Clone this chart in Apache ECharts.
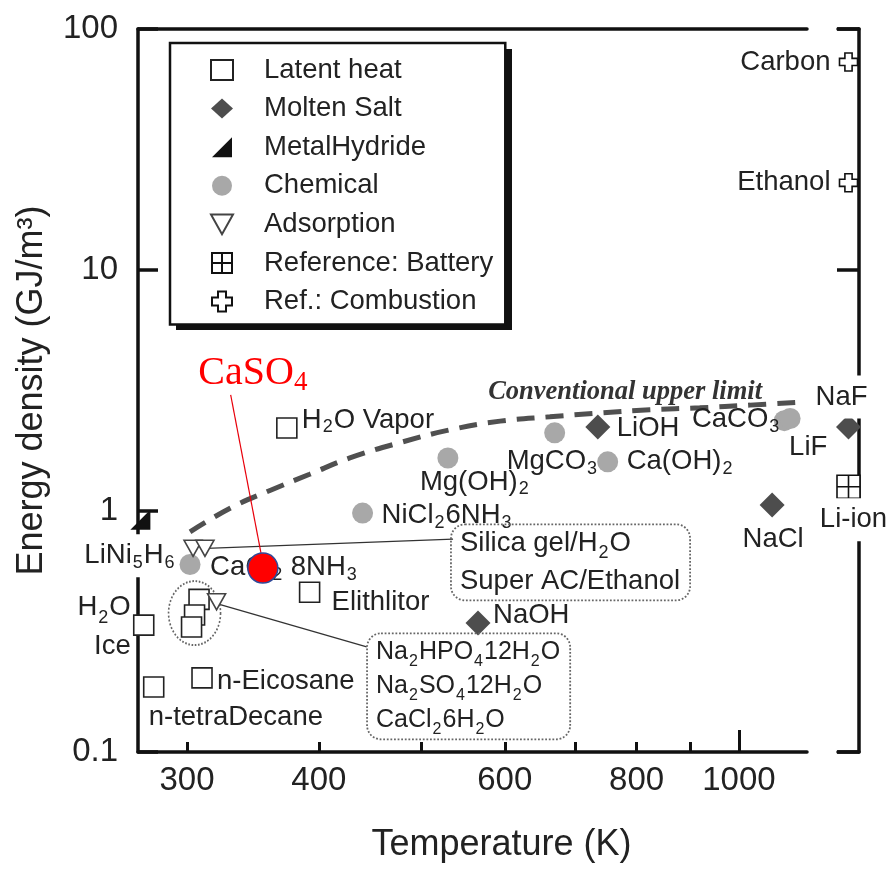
<!DOCTYPE html>
<html>
<head>
<meta charset="utf-8">
<title>Energy density vs temperature of heat storage materials</title>
<script src="https://cdn.jsdelivr.net/npm/echarts@6/dist/echarts.min.js"></script>
<style>
  html, body { margin: 0; padding: 0; background: #fff; }
  #chart { width: 890px; height: 874px; }
</style>
</head>
<body>
<div id="chart"></div>
<script>
// ---------------- data: temperature (K) and energy density (GJ/m3) ----------------
const latentNames   = ['H2O Vapor', 'Elithlitor', 'H2O Ice', 'n-tetraDecane', 'n-Eicosane',
                       'Na2HPO4·12H2O', 'Na2SO4·12H2O', 'CaCl2·6H2O'];
const latentTemp    = [373, 392, 273, 279, 310, 308, 305, 303];
const latentDensity = [2.21, 0.46, 0.336, 0.186, 0.203, 0.43, 0.37, 0.33];

const moltenNames   = ['LiOH', 'NaOH', 'NaCl'];
const moltenTemp    = [735, 566, 1075];
const moltenDensity = [2.23, 0.343, 1.06];

const hydrideNames   = ['LiNi5H6'];
const hydrideTemp    = [271];
const hydrideDensity = [0.92];

const chemicalNames   = ['Mg(OH)2', 'NiCl2·6NH3', 'MgCO3', 'Ca(OH)2', 'CaCO3', 'LiF', 'CaCl2·8NH3'];
const chemicalTemp    = [530, 440, 669, 751, 1104, 1118, 302];
const chemicalDensity = [1.66, 0.98, 2.11, 1.60, 2.37, 2.42, 0.60];

const adsorptionNames   = ['Silica gel/H2O', 'Super AC/Ethanol', 'Adsorbent'];
const adsorptionTemp    = [304, 312, 320];
const adsorptionDensity = [0.70, 0.70, 0.42];

// right-hand reference column (no temperature scale)
const refCategory       = ['Ref.'];
const moltenRefNames    = ['NaF'];
const moltenRefDensity  = [2.23];
const batteryNames      = ['Li-ion'];
const batteryDensity    = [1.26];
const combustionNames   = ['Carbon', 'Ethanol'];
const combustionDensity = [73, 23];

const caso4Temp    = [354];
const caso4Density = [0.58];

// conventional upper limit (dashed guide)
const limitTemp    = [302, 330, 360, 392, 428, 477, 532, 594, 662, 738, 823, 918, 1024, 1142];
const limitDensity = [0.82, 1.03, 1.22, 1.42, 1.66, 1.92, 2.17, 2.36, 2.46, 2.55, 2.63, 2.68, 2.75, 2.83];

// leader lines (data space)
const silicaLeader  = [[313, 0.70], [536, 0.765]];
const hydrateLeader = [[322, 0.41], [444, 0.273]];
const caso4Leader   = [[330, 3.03], [353, 0.65]];
const hydrateGroup  = [305, 0.377];

// axes
const tempRange    = [269.6, 1160];
const densityRange = [0.1, 100];
const tempTicks    = [300, 400, 500, 600, 700, 800, 900, 1000];
const tempMajorTicks = [1000];
const tempLabels   = [300, 400, 600, 800, 1000];

// ---------------- styling ----------------
const SANS  = "'Liberation Sans', Arial, Helvetica, sans-serif";
const SERIF = "'Liberation Serif', 'Times New Roman', serif";
const INK   = '#222';
const AXIS  = '#111';

const labelText = {
  'H2O Vapor': 'H{s|2}O Vapor',
  'Elithlitor': 'Elithlitor',
  'H2O Ice': 'H{s|2}O\nIce',
  'n-tetraDecane': 'n-tetraDecane',
  'n-Eicosane': 'n-Eicosane',
  'Na2HPO4·12H2O': 'Na{u|2}HPO{u|4}12H{u|2}O\nNa{u|2}SO{u|4}12H{u|2}O\nCaCl{u|2}6H{u|2}O',
  'LiOH': 'LiOH',
  'NaOH': 'NaOH',
  'NaCl': 'NaCl',
  'NaF': 'NaF',
  'LiNi5H6': 'LiNi{s|5}H{s|6}',
  'Mg(OH)2': 'Mg(OH){s|2}',
  'NiCl2·6NH3': 'NiCl{s|2}6NH{s|3}',
  'MgCO3': 'MgCO{s|3}',
  'Ca(OH)2': 'Ca(OH){s|2}',
  'CaCO3': 'CaCO{s|3}',
  'LiF': 'LiF',
  'CaCl2·8NH3': 'CaCl{s|2} 8NH{s|3}',
  'Super AC/Ethanol': 'Silica gel/H{s|2}O\nSuper AC/Ethanol',
  'Li-ion': 'Li-ion',
  'Carbon': 'Carbon',
  'Ethanol': 'Ethanol'
};

// [align, dx, dy, kind] relative to the marker centre
const labelPlace = {
  'H2O Vapor': ['left', 15, -8],
  'Elithlitor': ['left', 22, 10],
  'H2O Ice': ['right', -13, 2],
  'n-tetraDecane': ['left', -5, 30],
  'n-Eicosane': ['left', 15, 4],
  'Na2HPO4·12H2O': ['left', 168, 87, 'box3'],
  'LiOH': ['left', 19, 1],
  'NaOH': ['left', 15, -8],
  'NaCl': ['center', 1, 35],
  'NaF': ['center', -7, -30, 'cut'],
  'LiNi5H6': ['left', -58, 36, 'cut'],
  'Mg(OH)2': ['left', -28, 24],
  'NiCl2·6NH3': ['left', 19, 2],
  'MgCO3': ['left', -48, 29],
  'Ca(OH)2': ['left', 19, 0],
  'CaCO3': ['right', -4, -1],
  'LiF': ['left', -1, 29],
  'CaCl2·8NH3': ['left', 20, 3],
  'Super AC/Ethanol': ['left', 246, 14, 'box2'],
  'Li-ion': ['center', 5, 33, 'cut'],
  'Carbon': ['right', -18, 0],
  'Ethanol': ['right', -18, 0]
};

const subRich = {
  s: { fontSize: 18, fontFamily: SANS, color: INK, verticalAlign: 'bottom', padding: [0, 1, 0, 1] },
  u: { fontSize: 16, fontFamily: SANS, color: INK, verticalAlign: 'bottom', padding: [0, 1, 0, 1] }
};

function makeLabel(name) {
  const p = labelPlace[name];
  if (!p) return { show: false };
  const [align, dx, dy, kind] = p;
  const lab = {
    show: true,
    formatter: labelText[name],
    position: 'inside',
    align: align,
    verticalAlign: 'middle',
    offset: [dx, dy],
    fontFamily: SANS,
    fontSize: 27.5,
    lineHeight: 33,
    color: INK,
    textBorderWidth: 0,
    textBorderColor: 'transparent',
    rich: subRich
  };
  if (kind === 'cut') Object.assign(lab, { backgroundColor: '#fff', padding: [5, 2] });
  if (kind === 'box2') Object.assign(lab, {
    borderColor: '#666', borderWidth: 1.8, borderType: 'dotted', borderRadius: 14,
    padding: [0, 10, 0, 9], lineHeight: 38
  });
  if (kind === 'box3') Object.assign(lab, {
    fontSize: 25,
    borderColor: '#666', borderWidth: 1.8, borderType: 'dotted', borderRadius: 14,
    padding: [2, 10, 2, 9], lineHeight: 34
  });
  if (name === 'H2O Ice') lab.lineHeight = 39;
  return lab;
}

function points(names, xs, ys) {
  return names.map((n, i) => ({ name: n, value: [xs[i], ys[i]], label: makeLabel(n) }));
}
function refPoints(names, ys) {
  return names.map((n, i) => ({ name: n, value: [refCategory[0], ys[i]], label: makeLabel(n) }));
}

const SYM = {
  latent: 'rect',
  molten: 'diamond',
  hydride: 'path://M10,0 L10,10 L0,10 Z',
  chemical: 'circle',
  adsorption: 'path://M0,0 L10,0 L5,9 Z',
  battery: 'path://M0,0 L10,0 L10,10 L0,10 Z M5,0 L5,10 M0,5 L10,5',
  combustion: 'path://M3,0 L7,0 L7,3 L10,3 L10,7 L7,7 L7,10 L3,10 L3,7 L0,7 L0,3 L3,3 Z'
};
const STYLE = {
  latent: { color: '#fff', borderColor: '#222', borderWidth: 1.6, opacity: 1 },
  molten: { color: '#4d4d4d', opacity: 1 },
  hydride: { color: '#111', opacity: 1 },
  chemical: { color: '#a8a8a8', opacity: 1 },
  adsorption: { color: '#fff', borderColor: '#444', borderWidth: 1.6, opacity: 1 },
  battery: { color: '#fff', borderColor: '#111', borderWidth: 1.6, opacity: 1 },
  combustion: { color: '#fff', borderColor: '#111', borderWidth: 1.6, opacity: 1 }
};

const axisLineStyle = { color: AXIS, width: 3.5 };

const limitData = limitTemp.map((t, i) => {
  const item = { value: [t, limitDensity[i]] };
  if (i === 7) {
    item.label = {
      show: true, formatter: 'Conventional upper limit', position: 'inside',
      align: 'left', verticalAlign: 'middle', offset: [-12, -29],
      fontFamily: SERIF, fontStyle: 'italic', fontWeight: 'bold', fontSize: 26.5, color: '#333',
      textBorderWidth: 0, textBorderColor: 'transparent'
    };
  }
  return item;
});

const option = {
  animation: false,
  backgroundColor: '#fff',
  textStyle: { fontFamily: SANS },
  grid: [
    { left: 138, top: 29, width: 669, height: 723, outerBoundsMode: 'none', containLabel: false },
    { left: 838, top: 29, width: 21, height: 723, outerBoundsMode: 'none', containLabel: false }
  ],
  // drop shadow behind the legend frame
  graphic: [
    { type: 'rect', left: 176, top: 49, z: 3, silent: true,
      shape: { width: 336, height: 281 }, style: { fill: '#111' } }
  ],
  legend: {
    orient: 'vertical',
    left: 170, top: 43, z: 5,
    padding: [12, 12, 8, 40],
    itemGap: 8.6,
    itemWidth: 22, itemHeight: 20,
    backgroundColor: '#fff',
    borderColor: '#111', borderWidth: 2.5,
    selectedMode: false,
    textStyle: { fontFamily: SANS, fontSize: 27.5, lineHeight: 30, color: INK, padding: [0, 0, 0, 26] },
    data: [
      { name: 'Latent heat', icon: SYM.latent },
      { name: 'Molten Salt', icon: SYM.molten },
      { name: 'MetalHydride', icon: SYM.hydride },
      { name: 'Chemical', icon: SYM.chemical },
      { name: 'Adsorption', icon: SYM.adsorption },
      { name: 'Reference: Battery', icon: SYM.battery },
      { name: 'Ref.: Combustion', icon: SYM.combustion }
    ]
  },
  xAxis: [
    {
      gridIndex: 0, type: 'log', logBase: 10, min: tempRange[0], max: tempRange[1], position: 'bottom',
      axisLine: { show: true, onZero: false, lineStyle: axisLineStyle },
      axisTick: { show: true, inside: true, length: 10, customValues: tempTicks, lineStyle: { color: AXIS, width: 3 } },
      axisLabel: { customValues: tempLabels, fontFamily: SANS, fontSize: 33, color: INK, margin: 12,
                   formatter: v => String(Math.round(v)) },
      splitLine: { show: false }, minorTick: { show: false },
      name: 'Temperature (K)', nameLocation: 'middle', nameGap: 75, nameMoveOverlap: false,
      nameTextStyle: { fontFamily: SANS, fontSize: 36, color: INK, padding: [0, 0, 0, 58] }
    },
    {
      gridIndex: 0, type: 'log', logBase: 10, min: tempRange[0], max: tempRange[1], position: 'top',
      axisLine: { show: true, onZero: false, lineStyle: axisLineStyle },
      axisTick: { show: false }, axisLabel: { show: false }, splitLine: { show: false }
    },
    {
      gridIndex: 1, type: 'category', data: refCategory, position: 'bottom',
      axisLine: { show: true, onZero: false, lineStyle: axisLineStyle },
      axisTick: { show: false }, axisLabel: { show: false }, splitLine: { show: false }
    },
    {
      gridIndex: 1, type: 'category', data: refCategory, position: 'top',
      axisLine: { show: true, onZero: false, lineStyle: axisLineStyle },
      axisTick: { show: false }, axisLabel: { show: false }, splitLine: { show: false }
    },
    {
      // longer major tick at 1000 K
      gridIndex: 0, type: 'log', logBase: 10, min: tempRange[0], max: tempRange[1], position: 'bottom',
      offset: 0,
      axisLine: { show: false, onZero: false },
      axisTick: { show: true, inside: true, length: 22, customValues: tempMajorTicks, lineStyle: { color: AXIS, width: 3 } },
      axisLabel: { show: false }, splitLine: { show: false }, minorTick: { show: false }
    }
  ],
  yAxis: [
    {
      gridIndex: 0, type: 'log', logBase: 10, min: densityRange[0], max: densityRange[1], position: 'left',
      axisLine: { show: true, onZero: false, lineStyle: axisLineStyle },
      axisTick: { show: true, inside: true, length: 20, lineStyle: { color: AXIS, width: 3.5 } },
      axisLabel: { fontFamily: SANS, fontSize: 33, color: INK, margin: 20,
                   formatter: v => String(+Number(v).toPrecision(3)) },
      splitLine: { show: false }, minorTick: { show: false },
      name: 'Energy density (GJ/m³)', nameLocation: 'middle', nameGap: 88, nameRotate: 90,
      nameMoveOverlap: false,
      nameTextStyle: { fontFamily: SANS, fontSize: 36, color: INK }
    },
    {
      gridIndex: 1, type: 'log', logBase: 10, min: densityRange[0], max: densityRange[1], position: 'right',
      axisLine: { show: true, onZero: false, lineStyle: axisLineStyle },
      axisTick: { show: true, inside: true, length: 22, lineStyle: { color: AXIS, width: 3.5 } },
      axisLabel: { show: false }, splitLine: { show: false }, minorTick: { show: false }
    }
  ],
  series: [
    {
      name: 'Conventional upper limit', type: 'line', xAxisIndex: 0, yAxisIndex: 0,
      data: limitData, smooth: 0.4, symbol: 'circle', symbolSize: 0, showSymbol: true,
      lineStyle: { color: '#505050', width: 5, type: [18, 11] }, z: 1, silent: true
    },
    {
      name: 'hydrate group', type: 'scatter', xAxisIndex: 0, yAxisIndex: 0,
      data: [hydrateGroup], symbol: 'circle', symbolSize: [52, 64], z: 1, silent: true,
      itemStyle: { color: 'rgba(255,255,255,0)', borderColor: '#666', borderWidth: 1.8, borderType: 'dotted', opacity: 1 }
    },
    {
      name: 'leaders', type: 'lines', coordinateSystem: 'cartesian2d', xAxisIndex: 0, yAxisIndex: 0,
      polyline: false, silent: true, z: 1,
      lineStyle: { color: '#333', width: 1.3, opacity: 1 },
      data: [{ coords: silicaLeader }, { coords: hydrateLeader }]
    },
    {
      name: 'Latent heat', type: 'scatter', xAxisIndex: 0, yAxisIndex: 0,
      symbol: SYM.latent, symbolSize: 20, itemStyle: STYLE.latent, silent: true,
      data: points(latentNames, latentTemp, latentDensity)
    },
    {
      name: 'Molten Salt', type: 'scatter', xAxisIndex: 0, yAxisIndex: 0,
      symbol: SYM.molten, symbolSize: 25, itemStyle: STYLE.molten, silent: true,
      data: points(moltenNames, moltenTemp, moltenDensity)
    },
    {
      name: 'MetalHydride', type: 'scatter', xAxisIndex: 0, yAxisIndex: 0,
      symbol: SYM.hydride, symbolSize: 20, itemStyle: STYLE.hydride, silent: true,
      data: points(hydrideNames, hydrideTemp, hydrideDensity)
    },
    {
      name: 'Chemical', type: 'scatter', xAxisIndex: 0, yAxisIndex: 0,
      symbol: SYM.chemical, symbolSize: 21, itemStyle: STYLE.chemical, silent: true,
      data: points(chemicalNames, chemicalTemp, chemicalDensity)
    },
    {
      name: 'Adsorption', type: 'scatter', xAxisIndex: 0, yAxisIndex: 0,
      symbol: SYM.adsorption, symbolSize: [18, 16], itemStyle: STYLE.adsorption, silent: true,
      data: points(adsorptionNames, adsorptionTemp, adsorptionDensity)
    },
    {
      name: 'Molten Salt', type: 'scatter', xAxisIndex: 2, yAxisIndex: 1,
      symbol: SYM.molten, symbolSize: 25, itemStyle: STYLE.molten, silent: true,
      data: refPoints(moltenRefNames, moltenRefDensity)
    },
    {
      name: 'Reference: Battery', type: 'scatter', xAxisIndex: 2, yAxisIndex: 1,
      symbol: SYM.battery, symbolSize: 23, itemStyle: STYLE.battery, silent: true,
      data: refPoints(batteryNames, batteryDensity)
    },
    {
      name: 'Ref.: Combustion', type: 'scatter', xAxisIndex: 2, yAxisIndex: 1,
      symbol: SYM.combustion, symbolSize: 18, itemStyle: STYLE.combustion, silent: true,
      data: refPoints(combustionNames, combustionDensity)
    },
    {
      name: 'CaSO4 leader', type: 'lines', coordinateSystem: 'cartesian2d', xAxisIndex: 0, yAxisIndex: 0,
      polyline: false, silent: true, zlevel: 1,
      lineStyle: { color: '#e8000b', width: 1.2, opacity: 1 },
      data: [{ coords: caso4Leader }]
    },
    {
      name: 'CaSO4', type: 'scatter', xAxisIndex: 0, yAxisIndex: 0, zlevel: 1, silent: true,
      symbol: 'circle', symbolSize: 30,
      itemStyle: { color: '#ff0000', borderColor: '#2f4a9a', borderWidth: 1.5, opacity: 1 },
      data: caso4Temp.map((t, i) => ({
        name: 'CaSO4', value: [t, caso4Density[i]],
        label: {
          show: true, formatter: 'CaSO{t|4}', position: 'inside', align: 'center', verticalAlign: 'middle',
          offset: [-10, -195], fontFamily: SERIF, fontSize: 40, lineHeight: 46, color: '#ff0000',
          textBorderWidth: 0, textBorderColor: 'transparent',
          rich: { t: { fontFamily: SERIF, fontSize: 27, color: '#ff0000', verticalAlign: 'bottom' } }
        }
      }))
    }
  ]
};

const chart = echarts.init(document.getElementById('chart'), null, { renderer: 'canvas' });
chart.setOption(option);
</script>
</body>
</html>
